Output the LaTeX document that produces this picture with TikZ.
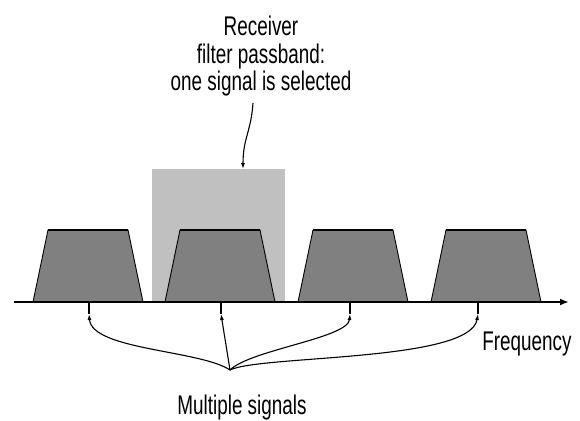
\documentclass[tikz,border=0pt]{standalone}
\usepackage{fontspec}
\newfontfamily\narrowfont[FakeStretch=0.70]{Liberation Sans}
\usetikzlibrary{arrows.meta}
\definecolor{sigGray}{HTML}{808080}
\definecolor{bandGray}{HTML}{C0C0C0}
\begin{document}
\begin{tikzpicture}[x=1pt,y=-1pt,
  lbl/.style={font=\narrowfont\fontsize{27}{27.5}\selectfont, inner sep=0pt, align=center},
  signal/.style={fill=sigGray, draw=black, line width=0.9pt, line join=miter},
  topedge/.style={line width=2.4pt},
  passband/.style={fill=bandGray},
  axisline/.style={line width=1.8pt, -{Latex[length=9pt,width=7pt]}},
  conn/.style={line width=1.1pt},
  tipconn/.style={conn, -{Latex[length=6pt,width=4pt]}}]
\useasboundingbox (0,0) rectangle (580,420);
% filter passband
\fill[passband] (152,169) rectangle (285,302);
% signals
\foreach \x in {33,165,298,431} {
  \filldraw[signal] (\x,302) -- (\x+15,230) -- (\x+95,230) -- (\x+110,302);
  \draw[topedge] (\x+15,230) -- (\x+95,230);
}
% axis
\coordinate (axL) at (14,302);
\coordinate (axR) at (569,302);
\draw[axisline] (axL) -- (axR);
% texts
\node[lbl, anchor=north] (title) at (261,16) {Receiver\\filter passband:\\one signal is selected};
\node[lbl, anchor=base] (freq) at (527,350) {Frequency};
\node[lbl, anchor=base] (multi) at (242,414) {Multiple signals};
% filter arrow
\coordinate (fs) at (253,103);
\coordinate (ft) at (243,169);
\draw[tipconn] (fs) .. controls (251,132) and (243,138) .. (ft);
% multiple signals bracket
\coordinate (m) at (230,370);
\coordinate (a1) at (89,314);  \coordinate (p1) at (89,302);
\coordinate (a2) at (221,314); \coordinate (p2) at (221,302);
\coordinate (a3) at (350,314); \coordinate (p3) at (350,302);
\coordinate (a4) at (478,314); \coordinate (p4) at (478,302);
\draw[tipconn] (m) .. controls (200,350) and (92,350) .. (a1);
\draw[conn] (a1) -- (p1);
\draw[tipconn] (m) -- (a2);
\draw[conn] (a2) -- (p2);
\draw[tipconn] (m) .. controls (250,350) and (348,338) .. (a3);
\draw[conn] (a3) -- (p3);
\draw[tipconn] (m) .. controls (260,355) and (470,362) .. (a4);
\draw[conn] (a4) -- (p4);
\end{tikzpicture}
\end{document}
